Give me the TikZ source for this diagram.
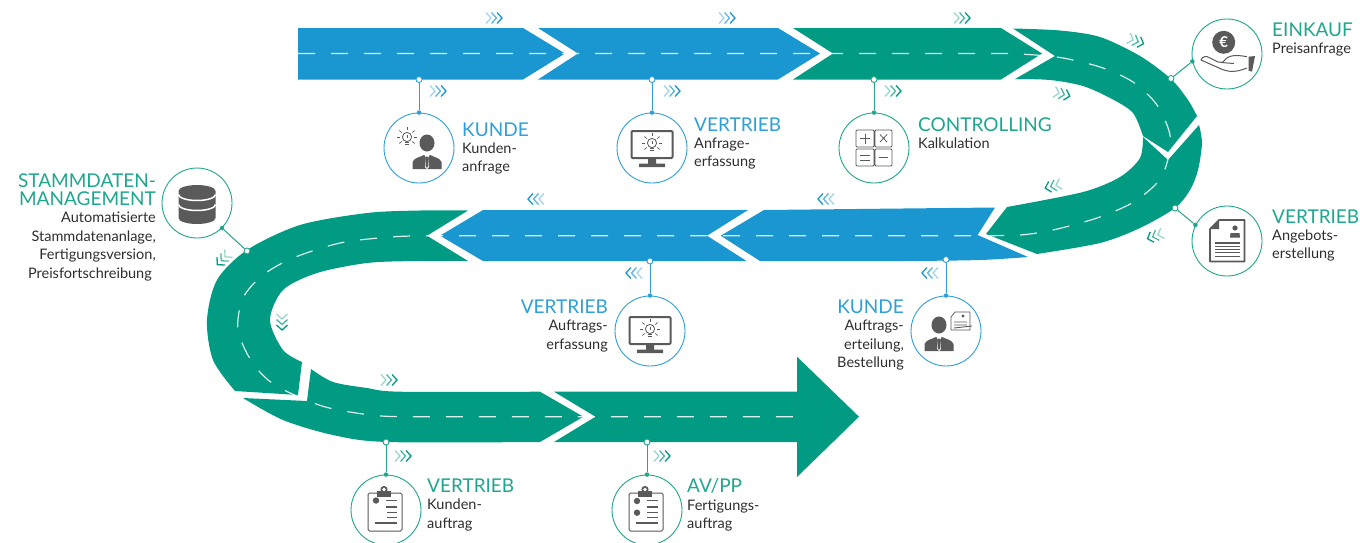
\documentclass[tikz,border=0pt]{standalone}
\usepackage{fontspec}
\setmainfont{Lato}
\usepackage{xcolor}
\usetikzlibrary{positioning}
\definecolor{roadblue}{HTML}{1A96D0}
\definecolor{roadgreen}{HTML}{009B82}
\definecolor{capblue}{HTML}{2F9FD8}
\definecolor{capgreen}{HTML}{1FA68E}
\definecolor{icongray}{HTML}{5A5A5A}
\definecolor{textgray}{HTML}{2E2E2E}
\tikzset{
    junction/.style={circle,draw=#1,fill=white,line width=0.9pt,inner sep=0pt,minimum size=6pt},
    station/.style={circle,draw=#1,fill=white,line width=0.9pt,inner sep=0pt,minimum size=70pt},
    pin/.style={circle,fill=#1,inner sep=0pt,minimum size=4.5pt},
    conn/.style={draw=#1,line width=1pt},
    captxt/.style={font=\fontsize{19}{19}\selectfont,text=#1,inner sep=0pt,align=left},
    subtxt/.style={font=\fontsize{14.5}{18.5}\selectfont,text=textgray,inner sep=0pt},
    lane/.style={draw=white,draw opacity=0.85,line width=1.2pt,dash pattern=on 17pt off 16pt},
    chevs/.pic={
        \foreach \dx/\op in {-5.5/0.4,0/0.7,5.5/1}
            \draw[#1,opacity=\op,line width=1.3pt] (\dx-2.5,-5.5) -- (\dx+2.5,0) -- (\dx-2.5,5.5);
    },
    bulbicon/.pic={
        \draw[icongray,line width=0.8pt] (0,-1) circle (4.6);
        \draw[icongray,line width=1pt] (-2.2,4.8) -- (2.2,4.8) (-1.6,6.4) -- (1.6,6.4);
        \draw[icongray,line width=0.9pt] (0,-3.2) -- (0,0.2);
        \foreach \ang in {0,40,140,180,220,270,320}
            \draw[icongray,line width=0.7pt] (\ang:7) ++(0,-1) -- ++(\ang:3);
    },
    personicon/.pic={
        \fill[icongray] (0,-11) ellipse (7.5 and 8.5);
        \fill[icongray] (-14.5,15) -- (-14.5,8) .. controls (-13,4) and (-7,3) .. (-3,1) -- (3,1) .. controls (7,3) and (13,4) .. (14.5,8) -- (14.5,15) -- cycle;
        \fill[white] (-2.5,1) -- (2.5,1) -- (1,4) -- (2,13) -- (0,15) -- (-2,13) -- (-1,4) -- cycle;
        \fill[icongray] (-1,2.5) -- (1,2.5) -- (1.3,12) -- (0,14) -- (-1.3,12) -- cycle;
    },
    monitoricon/.pic={
        \draw[icongray,line width=2pt,rounded corners=1pt] (-20.5,-17) rectangle (20.5,10);
        \fill[icongray] (-4,11) rectangle (4,16) (-13,15.5) rectangle (13,19);
        \pic at (0,-4) {bulbicon};
    },
    clipicon/.pic={
        \draw[icongray,line width=1pt,rounded corners=1.5pt] (-18,-17) rectangle (16,21);
        \fill[icongray] (-9,-19) rectangle (5,-13);
        \fill[icongray] (-2,-20.5) circle (3.6);
        \fill[white] (-2,-20.5) circle (1.9);
    },
    dociconlines/.pic={
        \foreach \yy in {0,3.3,6.6,9.9,13.2}
            \draw[icongray,line width=1.1pt] (-12,\yy) -- (13,\yy);
    },
}
\begin{document}
\begin{tikzpicture}[x=1pt,y=-1pt]
    \useasboundingbox (0,0) rectangle (1360,542);
    % upper band
    \fill[roadblue] (298,28) -- (523,28) -- (565,53.5) -- (523,79.5) -- (298,79.5) -- cycle;
    \fill[roadblue] (538,28) -- (778,28) -- (820,53.5) -- (778,79.5) -- (538,79.5) -- (578,53.5) -- cycle;
    \fill[roadgreen] (793,28) -- (1001,28) -- (1042,53.5) -- (1001,79.5) -- (793,79.5) -- (833,53.5) -- cycle;
    % right bend
    \fill[roadgreen] plot[smooth] coordinates {(1013,28.5) (1060,30.5) (1100,37) (1140,56) (1171,79) (1188,100) (1197,116)}
        -- (1168,152) -- (1143,136)
        -- plot[smooth] coordinates {(1143,136) (1133,113) (1112,99) (1083,86) (1050,80) (1015,79)}
        -- (1055,56) -- cycle;
    \fill[roadgreen] plot[smooth] coordinates {(1199,125) (1202,143) (1198,170) (1190,190) (1175,208) (1140,228) (1100,243) (1037,254)}
        -- (986,234) -- (1007,207)
        -- plot[smooth] coordinates {(1007,207) (1083,192) (1120,177) (1140,158) (1143,137)}
        -- (1168,160) -- cycle;
    % lower band
    \fill[roadblue] (764,210) -- (995,207.5) -- (977.6,235) -- (1028,257)
        -- plot[smooth] coordinates {(1028,257) (980,260) (900,261) (760,261)}
        -- (720.7,235.7) -- cycle;
    \fill[roadblue] (483,210) -- (748,210) -- (707,235.7) -- (746.5,261) -- (483,261) -- (440,235.7) -- cycle;
    % left bend
    \fill[roadgreen] plot[smooth] coordinates {(468,210.5) (420,210.5) (367,213) (300,225) (247,250) (217,280) (207,320) (213,360) (235,391)}
        -- (298,395) -- (302,362)
        -- plot[smooth] coordinates {(302,362) (283,350) (270,320) (283,290) (317,273) (367,263) (417,261) (468,261)}
        -- (427,235.7) -- cycle;
    \fill[roadgreen] (243,398) -- (307,401) -- (311,369)
        -- plot[smooth] coordinates {(311,369) (333,382) (367,388) (400,391.7) (540,391.7)}
        -- (583.4,416.7) -- (540,442)
        -- plot[smooth] coordinates {(540,442) (387,442) (333,435) (283,420) (243,398)}
        -- cycle;
    \fill[roadgreen] (554,391.7) -- (797,391.7) -- (797,356.7) -- (859,416.7) -- (797,477) -- (797,442) -- (554,442) -- (595.5,416.7) -- cycle;
    % dashes along the middle
    \draw[lane] (298,53.5) -- (1010,53.5)
        -- plot[smooth] coordinates {(1010,53.5) (1057,57) (1100,67) (1133,82) (1157,105) (1170,135) (1167,163) (1157,183) (1132,203) (1097,218) (1053,230) (1020,235) (977,235.7)}
        -- (427,235.7)
        -- plot[smooth] coordinates {(427,235.7) (390,237) (340,243) (293,258) (263,275) (243,298) (238,330) (252,362) (275,385) (322,406) (370,415) (400,416.7)}
        -- (797,416.7);
    % direction marks
    \foreach \px/\py/\rot in {494/18/0,438/91/0,672/91/0,727/18/0}
        \pic[rotate=\rot] at (\px,\py) {chevs=roadblue};
    \foreach \px/\py/\rot in {962/18/0,893/91/0,1136/41/-20,1062/94/-15,389/380/0,403/456/0,662/456/0}
        \pic[rotate=\rot] at (\px,\py) {chevs=roadgreen};
    \foreach \px/\py/\rot in {536/199/180,826/199/180,634/273/180,930/273/180}
        \pic[rotate=\rot] at (\px,\py) {chevs=roadblue};
    \foreach \px/\py/\rot in {1053/186/195,1155/236/200,223/259/225,282/322/-90}
        \pic[rotate=\rot] at (\px,\py) {chevs=roadgreen};

    % stations
    \node[station=capblue] (kunde) at (419,148) {};
    \node[station=capblue] (vertrieb) at (652,148) {};
    \node[station=capgreen] (controlling) at (874,148) {};
    \node[station=capgreen] (einkauf) at (1227,54) {};
    \node[station=capgreen] (angebot) at (1227,241) {};
    \node[station=capgreen] (stamm) at (197,203) {};
    \node[station=capblue] (auftrag) at (650,331) {};
    \node[station=capblue] (bestellung) at (946,331) {};
    \node[station=capgreen] (kundenauftrag) at (386,510) {};
    \node[station=capgreen] (fertigung) at (647,510) {};

    \node[junction=capblue] (kundeJ) at (419,79.5) {};
    \node[junction=capblue] (vertriebJ) at (652,79.5) {};
    \node[junction=capgreen] (controllingJ) at (874,79.5) {};
    \node[junction=capgreen] (einkaufJ) at (1171,78.5) {};
    \node[junction=capgreen] (angebotJ) at (1175,208) {};
    \node[junction=capgreen] (stammJ) at (247,251) {};
    \node[junction=capblue] (auftragJ) at (650,261) {};
    \node[junction=capblue] (bestellungJ) at (946,259.5) {};
    \node[junction=capgreen] (kundenauftragJ) at (386,442) {};
    \node[junction=capgreen] (fertigungJ) at (647,442) {};

    \node[pin=capblue] (kundeP) at (kunde.north) {};
    \node[pin=capblue] (vertriebP) at (vertrieb.north) {};
    \node[pin=capgreen] (controllingP) at (controlling.north) {};
    \node[pin=capgreen] (einkaufP) at (einkauf.192) {};
    \node[pin=capgreen] (angebotP) at (angebot.153) {};
    \node[pin=capgreen] (stammP) at (stamm.-45) {};
    \node[pin=capblue] (auftragP) at (auftrag.north) {};
    \node[pin=capblue] (bestellungP) at (bestellung.north) {};
    \node[pin=capgreen] (kundenauftragP) at (kundenauftrag.north) {};
    \node[pin=capgreen] (fertigungP) at (fertigung.north) {};

    \foreach \nm in {kunde,vertrieb,auftrag,bestellung}
        \draw[conn=capblue] (\nm J) -- (\nm P);
    \foreach \nm in {controlling,einkauf,angebot,stamm,kundenauftrag,fertigung}
        \draw[conn=capgreen] (\nm J) -- (\nm P);

    % labels
    \node[captxt=capblue,anchor=west] (kundeT) at (462,130) {KUNDE};
    \node[subtxt,align=left,below=5.5pt of kundeT.south west,anchor=north west] (kundeS) {Kunden-\\anfrage};
    \node[captxt=capblue,anchor=west] (vertriebT) at (694,125) {VERTRIEB};
    \node[subtxt,align=left,below=5.5pt of vertriebT.south west,anchor=north west] (vertriebS) {Anfrage-\\erfassung};
    \node[captxt=capgreen,anchor=west] (controllingT) at (918,125) {CONTROLLING};
    \node[subtxt,align=left,below=5.5pt of controllingT.south west,anchor=north west] (controllingS) {Kalkulation};
    \node[captxt=capgreen,anchor=west] (einkaufT) at (1272,30) {EINKAUF};
    \node[subtxt,align=left,below=5.5pt of einkaufT.south west,anchor=north west] (einkaufS) {Preisanfrage};
    \node[captxt=capgreen,anchor=west] (angebotT) at (1272,217) {VERTRIEB};
    \node[subtxt,align=left,below=5.5pt of angebotT.south west,anchor=north west] (angebotS) {Angebots-\\erstellung};
    \node[captxt=capgreen,align=right,anchor=north east,font=\fontsize{19}{18}\selectfont] (stammT) at (156,173.5) {STAMMDATEN-\\MANAGEMENT};
    \node[subtxt,align=right,below=6pt of stammT.south east,anchor=north east] (stammS) {Automatisierte\\Stammdatenanlage,\\Fertigungsversion,\\Preisfortschreibung\hspace*{4pt}};
    \node[captxt=capblue,anchor=east] (auftragT) at (608,307) {VERTRIEB};
    \node[subtxt,align=right,below=6pt of auftragT.south east,anchor=north east] (auftragS) {Auftrags-\\erfassung};
    \node[captxt=capblue,anchor=east] (bestellungT) at (904,307) {KUNDE};
    \node[subtxt,align=right,below=6pt of bestellungT.south east,anchor=north east] (bestellungS) {Auftrags-\\erteilung,\\Bestellung};
    \node[captxt=capgreen,anchor=west] (kundenauftragT) at (427,486) {VERTRIEB};
    \node[subtxt,align=left,below=6pt of kundenauftragT.south west,anchor=north west] (kundenauftragS) {Kunden-\\auftrag};
    \node[captxt=capgreen,anchor=west] (fertigungT) at (687,486) {AV/PP};
    \node[subtxt,align=left,below=6pt of fertigungT.south west,anchor=north west] (fertigungS) {Fertigungs-\\auftrag};

    % icons
    \pic at (427,154) {personicon};
    \pic at (407,138) {bulbicon};
    \pic at (652,148) {monitoricon};
    \pic at (650,334) {monitoricon};
    \pic at (939,336) {personicon};
    % calculator
    \begin{scope}[shift={(874,148)},icongray,line width=0.8pt]
        \draw[rounded corners=1pt] (-18,-18) rectangle (0,-1) (1,-18) rectangle (18,-1) (-18,1) rectangle (0,18) (1,1) rectangle (18,18);
        \draw (-14,-9.5) -- (-4,-9.5) (-9,-14.5) -- (-9,-4.5);
        \draw (6,-13.5) -- (13,-6) (13,-13.5) -- (6,-6);
        \draw (-14,7) -- (-4,7) (-14,12) -- (-4,12);
        \draw (5,9.5) -- (14,9.5);
    \end{scope}
    % hand with coin
    \begin{scope}[shift={(1227,54)}]
        \fill[icongray] (-3.3,-11.7) circle (11.5);
        \node[text=white,font=\fontsize{15}{15}\selectfont\bfseries,inner sep=0pt] (euro) at (-3.3,-11.7) {€};
        \draw[icongray,line width=1pt,line join=round] (20,14) .. controls (10,18) and (2,19) .. (-8,14) -- (-26,6) .. controls (-25,2) and (-20,2) .. (-18,3.5) -- (-9,8) -- (-4,8) .. controls (0,2) and (6,0) .. (20,2.7) (-6,8.5) -- (7,9.5);
        \fill[icongray] (21.7,2.7) -- (28,2) -- (25,17.7) -- (21.7,16.7) -- cycle;
    \end{scope}
    % cv page
    \begin{scope}[shift={(1227,241)}]
        \draw[icongray,line width=1.6pt,line join=round] (-8,-21) -- (17.5,-21) -- (17.5,20.5) -- (-17,20.5) -- (-17,-12) -- cycle;
        \fill[icongray] (-17,-12) -- (-8,-12) -- (-8,-21) -- cycle;
        \fill[icongray] (8,-13) circle (2.6);
        \fill[icongray] (3,-3.5) -- (3.5,-8) -- (12.5,-8) -- (13,-3.5) -- cycle;
        \pic at (0,2) {dociconlines};
    \end{scope}
    % database
    \begin{scope}[shift={(197,203)}]
        \fill[icongray] (-18.5,-12) arc (180:360:18.5 and 6) -- (18.5,15) arc (0:180:18.5 and 6) -- cycle;
        \draw[white,line width=1.5pt] (-18.5,-8.5) arc (180:0:18.5 and 6);
        \draw[white,line width=1.5pt] (-18.5,1.5) arc (180:0:18.5 and 6);
    \end{scope}
    % order sheets
    \begin{scope}[shift={(386,510)}]
        \pic at (0,0) {clipicon};
        \fill[icongray] (-10,-9.5) circle (3.2);
        \draw[icongray,line width=1.2pt] (0,-9.3) -- (11,-9.3) (0,-3) -- (11,-3) (1,2.7) -- (11,2.7) (1,7.7) -- (11,7.7) (-11,13) -- (11,13);
    \end{scope}
    \begin{scope}[shift={(647,510)}]
        \pic at (0,0) {clipicon};
        \fill[icongray] (-10,-9) circle (3.2) (-10,2.7) circle (3.2);
        \draw[icongray,line width=1.2pt] (0,-9.3) -- (11,-9.3) (0,-3) -- (11,-3) (0,2.7) -- (11,2.7) (0,7.7) -- (11,7.7) (-11,13) -- (11,13);
    \end{scope}
    % signed page by the customer
    \begin{scope}[shift={(946,331)}]
        \draw[icongray,fill=white,line width=0.8pt] (9,-19) -- (24,-19) -- (24,-1) -- (5,-1) -- (5,-14) -- cycle;
        \fill[icongray] (17,-15) circle (1.6);
        \draw[icongray,line width=0.9pt] (8,-9) -- (21,-9) (8,-6) -- (21,-6) (8,-3) -- (26,-5);
    \end{scope}
\end{tikzpicture}
\end{document}
